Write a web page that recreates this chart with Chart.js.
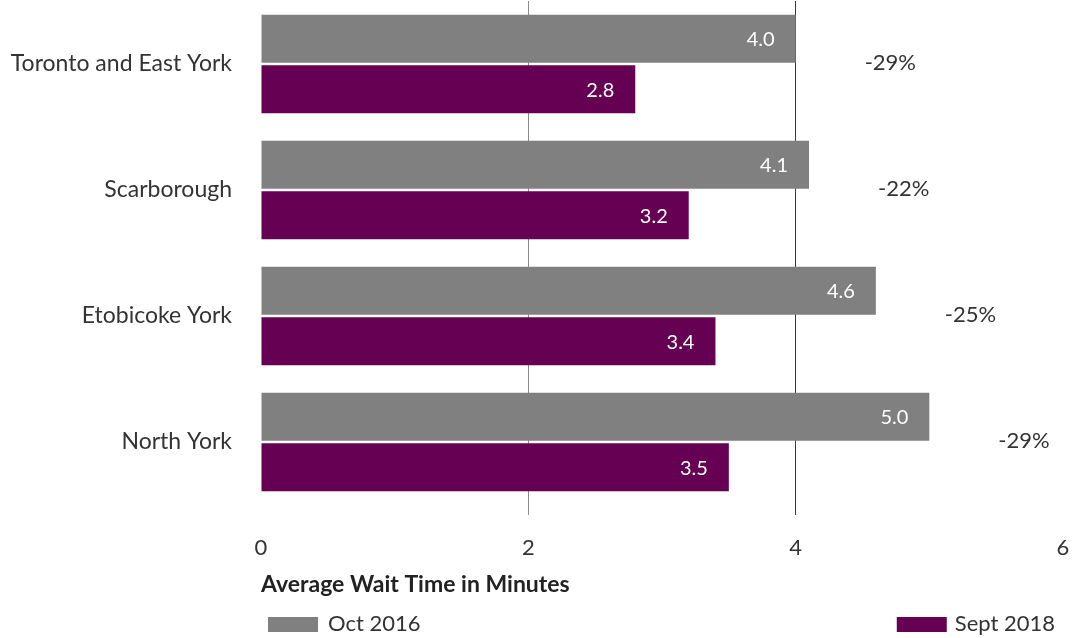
<!DOCTYPE html>
<html>
<head>
<meta charset="utf-8">
<script src="https://cdn.jsdelivr.net/npm/chart.js@4/dist/chart.umd.min.js"></script>
<style>
  body { margin: 0; background: #fff; }
  #wrap { width: 1077px; height: 638px; }
</style>
</head>
<body>
<div id="wrap"><canvas id="wait-chart" width="1077" height="638"></canvas></div>
<script>
const districts = ['Toronto and East York', 'Scarborough', 'Etobicoke York', 'North York'];
const oct2016 = [4.0, 4.1, 4.6, 5.0];
const sept2018 = [2.8, 3.2, 3.4, 3.5];
const changeLabels = ['-29%', '-22%', '-25%', '-29%'];
const seriesNames = ['Oct 2016', 'Sept 2018'];

const GREY = '#808080';
const PURPLE = '#650052';
const FONT = 'Lato, "Open Sans", sans-serif';

// grid line colour per tick value (outer ticks hidden)
const gridColors = { 2: '#8a8a8a', 4: '#3a3a3a' };

// values inside bars + percent change next to each pair
const barLabels = {
  id: 'barLabels',
  afterDatasetsDraw(chart) {
    const ctx = chart.ctx;
    ctx.save();
    ctx.textBaseline = 'middle';
    ctx.font = '20px ' + FONT;
    chart.data.datasets.forEach((ds, i) => {
      chart.getDatasetMeta(i).data.forEach((bar, j) => {
        ctx.fillStyle = '#fff';
        ctx.textAlign = 'right';
        ctx.fillText(ds.data[j].toFixed(1), bar.x - 21, bar.y + 1);
      });
    });
    const first = chart.getDatasetMeta(0).data;
    const second = chart.getDatasetMeta(1).data;
    ctx.font = '22px ' + FONT;
    ctx.fillStyle = '#333';
    ctx.textAlign = 'left';
    first.forEach((bar, j) => {
      const y = (bar.y + second[j].y) / 2;
      ctx.fillText(changeLabels[j], bar.x + 69, y - 1);
    });
    ctx.restore();
  }
};

// legend split to both sides under the axis title
const splitLegend = {
  id: 'splitLegend',
  afterDraw(chart) {
    const ctx = chart.ctx;
    const y = 624;
    ctx.save();
    ctx.font = '22px ' + FONT;
    ctx.textBaseline = 'middle';
    ctx.textAlign = 'left';
    const ds = chart.data.datasets;
    // left item
    let x = chart.chartArea.left + 7;
    ctx.fillStyle = ds[0].backgroundColor;
    ctx.fillRect(x, y - 7, 50, 15);
    ctx.fillStyle = '#333';
    ctx.fillText(ds[0].label, x + 60, y);
    // right item
    const w = ctx.measureText(ds[1].label).width;
    x = chart.width - 22 - w - 58;
    ctx.fillStyle = ds[1].backgroundColor;
    ctx.fillRect(x, y - 7, 50, 15);
    ctx.fillStyle = '#333';
    ctx.fillText(ds[1].label, x + 58, y);
    ctx.restore();
  }
};

new Chart(document.getElementById('wait-chart'), {
  type: 'bar',
  data: {
    labels: districts,
    datasets: [
      { label: seriesNames[0], data: oct2016, backgroundColor: GREY },
      { label: seriesNames[1], data: sept2018, backgroundColor: PURPLE }
    ]
  },
  options: {
    indexAxis: 'y',
    responsive: false,
    animation: false,
    categoryPercentage: 0.8,
    barPercentage: 0.95,
    layout: { padding: { top: 1, right: 14, bottom: 40, left: 0 } },
    plugins: {
      legend: { display: false },
      tooltip: { enabled: false }
    },
    scales: {
      x: {
        min: 0,
        max: 6,
        border: { display: false },
        grid: {
          color: (c) => (c.tick && gridColors[c.tick.value]) || 'rgba(0,0,0,0)',
          tickLength: 10
        },
        ticks: {
          stepSize: 2,
          padding: 20,
          color: '#333',
          font: { family: FONT, size: 22 }
        },
        title: {
          display: true,
          text: 'Average Wait Time in Minutes',
          align: 'start',
          color: '#222',
          font: { family: FONT, size: 23, weight: 'bold' },
          padding: { top: 8, bottom: 0 }
        },
        afterFit(scale) {
          scale.paddingLeft = 0;
          scale.paddingRight = 0;
          scale.height = 93;
        }
      },
      y: {
        border: { display: false },
        grid: { display: false, drawTicks: false },
        ticks: {
          padding: 29,
          color: '#333',
          font: { family: FONT, size: 23 }
        },
        // fixed label column; tick padding would otherwise push the plot down
        afterFit(scale) {
          scale.paddingTop = 0;
          scale.paddingBottom = 0;
          scale.width = 261;
        }
      }
    }
  },
  plugins: [barLabels, splitLegend]
});
</script>
</body>
</html>
